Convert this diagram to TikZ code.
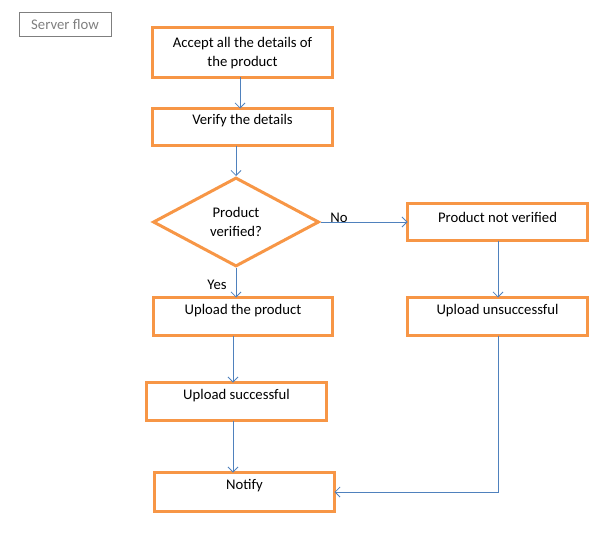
\documentclass[tikz,border=0pt]{standalone}
\usepackage{fontspec}
\setmainfont{Carlito}
\usetikzlibrary{arrows.meta,shapes.geometric}
\definecolor{orng}{HTML}{F79646}
\definecolor{lblue}{HTML}{4F81BD}
\definecolor{gry}{HTML}{7F7F7F}
\begin{document}
\begin{tikzpicture}[x=1pt,y=-1pt,
  box/.style={draw=orng,line width=3pt,minimum width=180pt,inner sep=0pt,outer sep=0pt},
  txt/.style={font=\fontsize{14.7}{19.5}\selectfont,inner sep=0pt,align=center},
  arr/.style={draw=lblue,line width=0.8pt,-{Straight Barb[length=5pt,width=10pt,line width=0.8pt]}},
  plain/.style={draw=lblue,line width=0.8pt}]
\useasboundingbox (0,0) rectangle (609,532);
% title box
\node[draw=gry,line width=0.8pt,minimum width=92pt,minimum height=24pt,inner sep=0pt,
  font=\fontsize{14.7}{16}\selectfont,text=gry] (title) at (65,24) {Server flow};
% boxes
\node[box,minimum height=50pt] (b1) at (242.5,52.5) {};
\node[txt] (t1) at (242.5,53) {Accept all the details of\\the product};
\node[box,minimum height=37pt] (b2) at (242.5,127) {};
\node[txt] (t2) at (242.5,121) {Verify the details};
\node[diamond,draw=orng,line width=3pt,minimum width=166pt,minimum height=89pt,inner sep=0pt,
  aspect=1.86,txt] (d) at (236,222) {Product\\verified?};
\node[box,minimum height=37pt] (pnv) at (497.5,222) {};
\node[txt] (t3) at (497.5,217) {Product not verified};
\node[box,minimum height=38pt,minimum width=179pt] (up) at (243,316.5) {};
\node[txt] (t4) at (243,311) {Upload the product};
\node[box,minimum height=38pt] (uu) at (497.5,316.5) {};
\node[txt] (t5) at (497.5,311) {Upload unsuccessful};
\node[box,minimum height=38pt] (us) at (236.5,401.5) {};
\node[txt] (t6) at (236.5,396) {Upload successful};
\node[box,minimum height=39pt] (nt) at (244.5,492) {};
\node[txt] (t7) at (244.5,486) {Notify};
% labels
\node[txt] (no) at (339,218) {No};
\node[txt] (yes) at (217,285) {Yes};
% connectors
\coordinate (xa) at (240,0);
\coordinate (xb) at (236,0);
\coordinate (xl) at (233,0);
\coordinate (xr) at (498,0);
\draw[arr] (xa |- b1.south) -- (xa |- b2.north);
\draw[arr] (xb |- b2.south) -- (d.north);
\draw[arr] (d.east) -- (pnv.west);
\draw[arr] (xr |- pnv.south) -- (xr |- uu.north);
\draw[arr] (d.south) -- (d.south |- up.north);
\draw[arr] (xl |- up.south) -- (xl |- us.north);
\draw[arr] (xl |- us.south) -- (xl |- nt.north);
\draw[arr] (xr |- uu.south) -- (xr |- nt.east) -- (nt.east);
\end{tikzpicture}
\end{document}
